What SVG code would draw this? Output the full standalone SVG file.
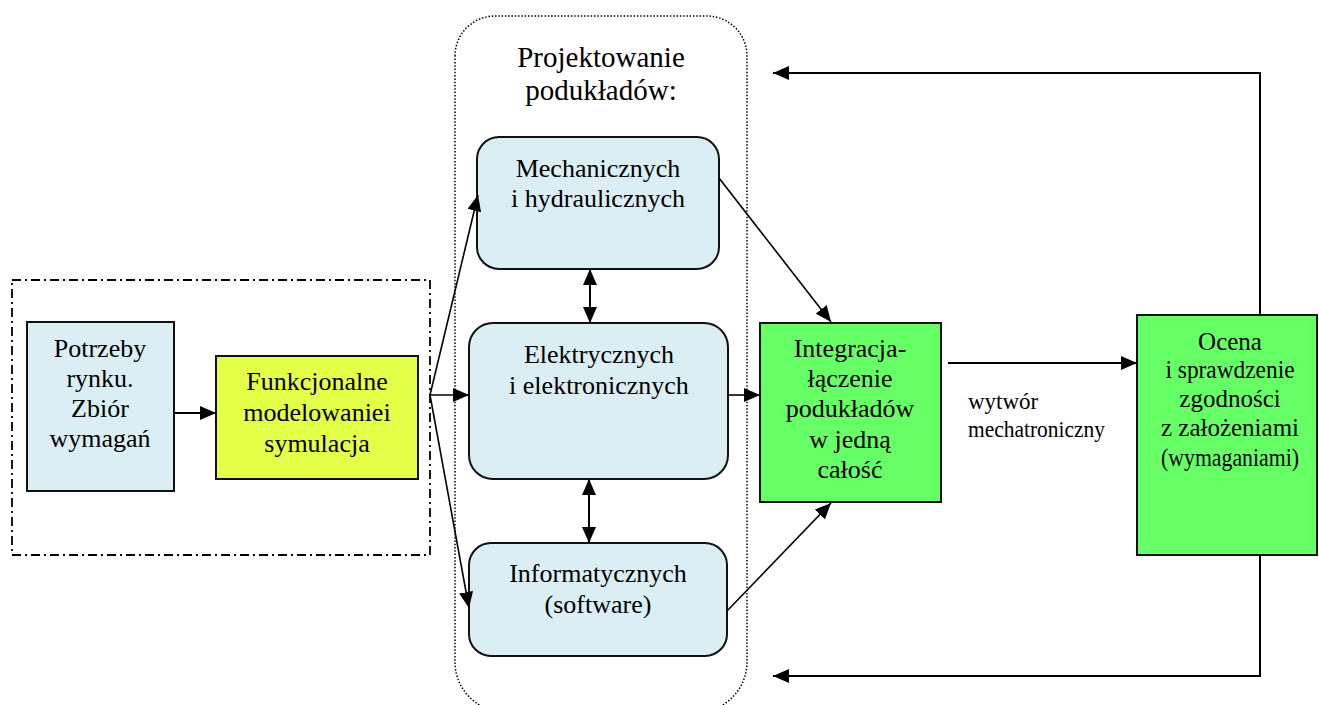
<svg xmlns="http://www.w3.org/2000/svg" width="1319" height="705" viewBox="0 0 1319 705">
<defs>
<marker id="ah" viewBox="0 0 16 14" refX="16" refY="7" markerWidth="16" markerHeight="14" markerUnits="userSpaceOnUse" orient="auto-start-reverse">
<path d="M0,0 L16,7 L0,14 z" fill="#000"/>
</marker>
<style>
text{font-family:"Liberation Serif","Times New Roman",serif;fill:#000;text-anchor:middle}
.t26{font-size:26px}
.t25{font-size:25px}
.t29{font-size:29px}
.box{stroke:#111;stroke-width:2}
.blue{fill:#DAEEF3}
.yel{fill:#E4FF47}
.grn{fill:#66FF66}
.ln{fill:none;stroke:#000;stroke-width:2}
.thin{fill:none;stroke:#000;stroke-width:1.6}
</style>
</defs>
<rect width="1319" height="705" fill="#fff"/>

<g id="group-outer">
<rect x="12" y="280" width="418" height="275" fill="none" stroke="#000" stroke-width="1.8" stroke-dasharray="9 4 2 4"/>
</g>
<g id="group-design">
<path d="M455,56 A40,40 0 0 1 495,16 L707,16 A40,40 0 0 1 747,56 L747,662 A50,50 0 0 1 697,712 L505,712 A50,50 0 0 1 455,662 Z" fill="none" stroke="#000" stroke-width="1.5" stroke-dasharray="1.5 1.8"/>
<text class="t29" x="601" y="67">Projektowanie</text>
<text class="t29" x="601" y="100">podukładów:</text>
</g>

<g id="node-potrzeby">
<rect class="box blue" x="27" y="322" width="147" height="169"/>
<text class="t26" x="100" y="357">Potrzeby</text>
<text class="t26" x="100" y="387">rynku.</text>
<text class="t26" x="100" y="417">Zbiór</text>
<text class="t26" x="100" y="447">wymagań</text>
</g>
<g id="node-funkcjonalne">
<rect class="box yel" x="216" y="356" width="202" height="123"/>
<text class="t26" x="317" y="390">Funkcjonalne</text>
<text class="t26" x="317" y="421">modelowaniei</text>
<text class="t26" x="317" y="452">symulacja</text>
</g>
<g id="node-mech">
<rect class="box blue" x="477" y="137" width="242" height="132" rx="22"/>
<text class="t26" x="598" y="177">Mechanicznych</text>
<text class="t26" x="598" y="207">i hydraulicznych</text>
</g>
<g id="node-elek">
<rect class="box blue" x="469" y="323" width="259" height="156" rx="24"/>
<text class="t26" x="599" y="363">Elektrycznych</text>
<text class="t26" x="599" y="394">i elektronicznych</text>
</g>
<g id="node-inform">
<rect class="box blue" x="469" y="543" width="258" height="113" rx="22"/>
<text class="t26" x="598" y="582">Informatycznych</text>
<text class="t26" x="598" y="613">(software)</text>
</g>
<g id="node-integracja">
<rect class="box grn" x="760" y="323" width="181" height="179"/>
<text class="t26" x="850" y="357">Integracja-</text>
<text class="t26" x="850" y="387">łączenie</text>
<text class="t26" x="850" y="417">podukładów</text>
<text class="t26" x="850" y="448">w jedną</text>
<text class="t26" x="850" y="478">całość</text>
</g>
<g id="node-ocena">
<rect class="box grn" x="1137" y="315" width="180" height="240"/>
<text class="t25" x="1230" y="350">Ocena</text>
<text class="t25" x="1230" y="378" textLength="129" lengthAdjust="spacingAndGlyphs">i sprawdzenie</text>
<text class="t25" x="1230" y="407">zgodności</text>
<text class="t25" x="1230" y="436">z założeniami</text>
<text class="t25" x="1230" y="466" textLength="138" lengthAdjust="spacingAndGlyphs">(wymaganiami)</text>
</g>

<g id="connectors">
<line class="ln" x1="174" y1="413" x2="216" y2="413" marker-end="url(#ah)"/>
<line class="thin" x1="430" y1="395" x2="478" y2="195" marker-end="url(#ah)"/>
<line class="thin" x1="430" y1="395" x2="469" y2="395" marker-end="url(#ah)"/>
<line class="thin" x1="430" y1="395" x2="469" y2="608" marker-end="url(#ah)"/>
<line class="ln" x1="590" y1="269" x2="590" y2="323" marker-start="url(#ah)" marker-end="url(#ah)"/>
<line class="ln" x1="589" y1="479" x2="589" y2="543" marker-start="url(#ah)" marker-end="url(#ah)"/>
<line class="thin" x1="719" y1="178" x2="831" y2="322" marker-end="url(#ah)"/>
<line class="thin" x1="728" y1="395" x2="760" y2="395" marker-end="url(#ah)"/>
<line class="thin" x1="727" y1="611" x2="831" y2="503" marker-end="url(#ah)"/>
<line class="ln" x1="948" y1="363" x2="1137" y2="363" marker-end="url(#ah)"/>
<polyline class="ln" points="1260,315 1260,73 773,73" marker-end="url(#ah)"/>
<polyline class="ln" points="1260,555 1260,676 773,676" marker-end="url(#ah)"/>
<text style="font-size:23px;text-anchor:start" x="968" y="409">wytwór</text>
<text style="font-size:23px;text-anchor:start" x="968" y="437" textLength="137" lengthAdjust="spacingAndGlyphs">mechatroniczny</text>
</g>
</svg>
